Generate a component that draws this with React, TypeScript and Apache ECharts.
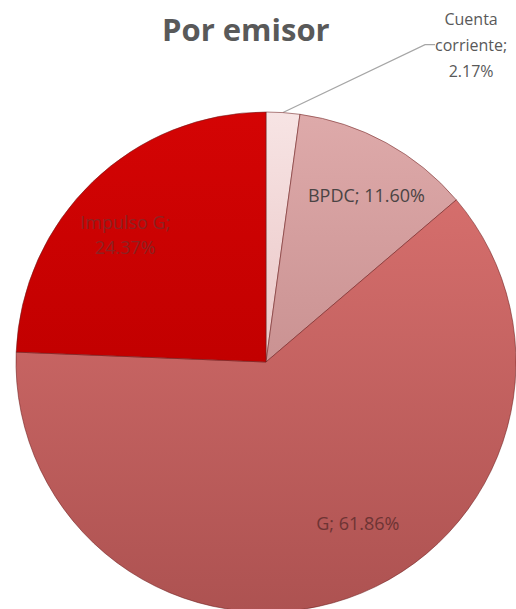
import React, { useEffect, useRef } from 'react';
import * as echarts from 'echarts';

const titleText = 'Por emisor';
const categories = ['Cuenta corriente', 'BPDC', 'G', 'Impulso G'];
const shares = [2.17, 11.6, 61.86, 24.37];

const sliceTop = ['#F7E4E4', '#DEAAAA', '#D56E6C', '#D40404'];
const sliceBottom = ['#EAC6C6', '#CA9292', '#AD5251', '#C20000'];
const labelColors = ['#595959', '#4a4444', '#6e3434', '#8c2222'];
// offsets of each label from the library's default label position
const labelOffsets: number[][] = [[136, -53], [39, -55], [50, 40], [-52, -35]];

function labelText(i: number): string {
  const name = categories[i];
  const pct = shares[i].toFixed(2) + '%';
  if (i === 0) return name.replace(' ', '\n') + ';\n' + pct;
  if (i === 3) return name + ';\n' + pct;
  return name + '; ' + pct;
}

export default function App() {
  const ref = useRef<HTMLDivElement>(null);
  useEffect(() => {
    if (!ref.current) return;
    const chart = echarts.init(ref.current, undefined, { renderer: 'svg' });
    const data = categories.map((name, i) => ({
      name,
      value: shares[i],
      itemStyle: {
        color: {
          type: 'linear', x: 0, y: 0, x2: 0, y2: 1,
          colorStops: [
            { offset: 0, color: sliceTop[i] },
            { offset: 1, color: sliceBottom[i] },
          ],
        },
      },
      label: {
        position: i === 0 ? 'outside' : 'inside',
        color: labelColors[i],
        fontSize: i === 0 ? 16 : 18,
        lineHeight: i === 0 ? 26 : 25,
        align: 'center',
      },
      labelLine: { show: i === 0 },
    }));
    chart.setOption({
      animation: false,
      title: {
        text: titleText,
        left: 157,
        top: 8,
        textStyle: {
          fontFamily: 'Open Sans',
          fontWeight: 'bold',
          fontSize: 31,
          color: '#595959',
        },
      },
      series: [
        {
          type: 'pie',
          center: [266, 362],
          radius: 250,
          startAngle: 90,
          clockwise: true,
          avoidLabelOverlap: false,
          itemStyle: {
            borderColor: 'rgba(110,30,30,0.55)',
            borderWidth: 1,
          },
          label: {
            fontFamily: 'Open Sans',
            formatter: (p: any) => labelText(p.dataIndex),
          },
          labelLine: {
            length: 15,
            length2: 10,
            lineStyle: { color: '#a6a6a6', width: 1.2 },
          },
          labelLayout: (p: any) => {
            const [dx, dy] = labelOffsets[p.dataIndex];
            const r = p.labelRect;
            if (p.dataIndex === 0) {
              return {
                x: r.x + r.width / 2 + dx,
                y: r.y + r.height / 2 + dy,
                align: 'center',
                verticalAlign: 'middle',
              };
            }
            return { dx, dy };
          },
          emphasis: { disabled: true },
          data,
        },
      ],
    });
    return () => chart.dispose();
  }, []);
  return (
    <div
      ref={ref}
      style={{ position: 'absolute', left: 0, top: 0, width: 516, height: 609 }}
    />
  );
}
